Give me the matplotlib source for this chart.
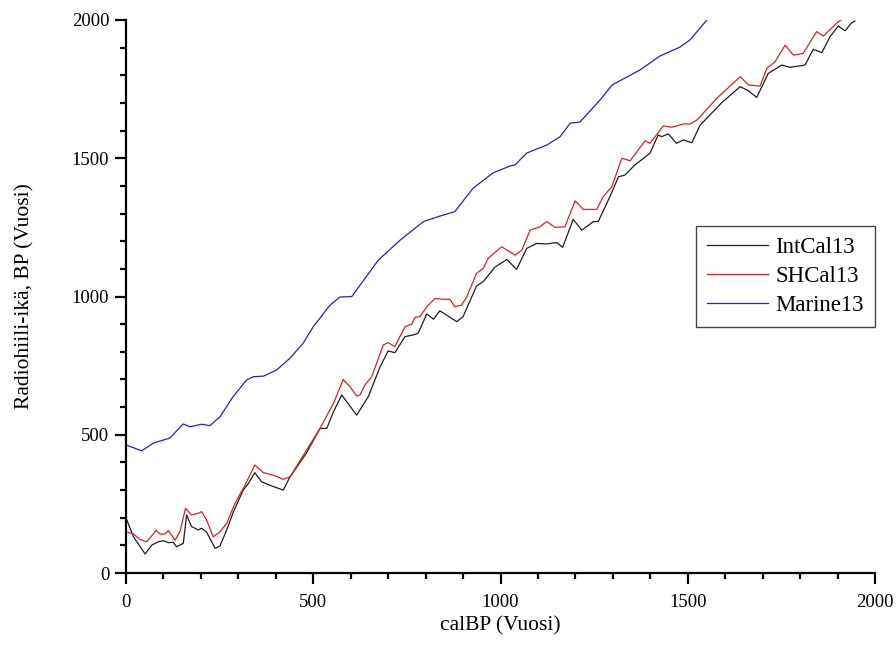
import numpy as np
import matplotlib
matplotlib.use("Agg")
import matplotlib.pyplot as plt
from matplotlib.ticker import MultipleLocator

LW = 0.9
matplotlib.rcParams['font.family'] = ['Liberation Serif', 'DejaVu Serif']

# calendar age (cal BP) vs radiocarbon age (BP)
int_x = [0, 20, 51, 69, 86, 100, 113, 126, 135, 153, 162, 175, 193, 202, 215, 238, 251, 269, 287,
         313, 327, 344, 362, 389, 420, 429, 438, 480, 518, 536, 554, 576, 616, 647, 678, 700, 718,
         745, 767, 780, 803, 821, 838, 856, 883, 900, 936, 954, 985, 1017, 1043, 1070, 1097, 1123,
         1150, 1166, 1194, 1217, 1248, 1261, 1292, 1315, 1332, 1359, 1399, 1421, 1430, 1448, 1470,
         1488, 1511, 1533, 1546, 1590, 1640, 1662, 1684, 1715, 1751, 1773, 1813, 1835, 1858, 1880,
         1902, 1920, 1938, 1946]
int_y = [200, 131, 69, 101, 113, 117, 110, 111, 95, 107, 210, 168, 156, 162, 149, 89, 98, 156, 222,
         300, 324, 363, 330, 315, 300, 324, 348, 430, 523, 523, 583, 644, 571, 638, 744, 803, 797,
         855, 861, 867, 937, 918, 948, 933, 909, 927, 1038, 1054, 1106, 1134, 1098, 1174, 1192, 1190,
         1195, 1178, 1279, 1240, 1271, 1271, 1361, 1433, 1439, 1476, 1518, 1584, 1578, 1588, 1554,
         1566, 1556, 1620, 1638, 1700, 1759, 1744, 1720, 1807, 1837, 1829, 1837, 1894, 1882, 1940,
         1978, 1961, 1990, 1996]

sh_x = [0, 20, 37, 55, 73, 80, 91, 104, 113, 122, 131, 144, 159, 175, 193, 202, 215, 233, 251, 269,
        291, 318, 344, 367, 393, 420, 438, 480, 518, 554, 580, 598, 616, 625, 638, 656, 687, 700, 718,
        745, 763, 772, 785, 803, 825, 847, 865, 878, 896, 910, 936, 954, 967, 1003, 1039, 1057, 1079,
        1105, 1123, 1146, 1172, 1199, 1221, 1257, 1274, 1297, 1324, 1346, 1386, 1399, 1435, 1457,
        1488, 1506, 1524, 1580, 1640, 1662, 1693, 1711, 1733, 1760, 1782, 1808, 1844, 1862, 1902,
        1911]
sh_y = [149, 141, 122, 113, 141, 155, 141, 141, 153, 137, 119, 149, 234, 210, 216, 222, 192, 131,
        149, 180, 252, 318, 391, 363, 354, 339, 348, 440, 523, 614, 700, 674, 640, 644, 680, 710, 825,
        833, 819, 891, 900, 925, 927, 963, 993, 990, 990, 963, 969, 999, 1084, 1102, 1138, 1180, 1150,
        1168, 1240, 1252, 1271, 1250, 1252, 1346, 1315, 1315, 1361, 1397, 1500, 1491, 1563, 1554, 1617,
        1612, 1624, 1624, 1638, 1720, 1795, 1765, 1761, 1825, 1849, 1909, 1873, 1879, 1958, 1942, 1994,
        2002]

mar_x = [0, 42, 73, 117, 153, 171, 202, 224, 251, 286, 322, 340, 367, 402, 438, 473, 500, 518, 545,
         571, 603, 674, 732, 794, 834, 878, 927, 980, 1025, 1039, 1070, 1124, 1159, 1186, 1212, 1266,
         1298, 1372, 1426, 1479, 1506, 1533, 1551]
mar_y = [463, 442, 470, 488, 539, 529, 538, 533, 565, 638, 698, 710, 712, 734, 777, 831, 891, 922,
         969, 998, 1000, 1132, 1204, 1271, 1289, 1307, 1392, 1447, 1472, 1476, 1519, 1548, 1578, 1627,
         1631, 1711, 1765, 1819, 1870, 1902, 1928, 1971, 2000]

fig = plt.figure(figsize=(8.96, 6.62), dpi=100)
ax = fig.add_axes([0.1406, 0.1344, 0.836, 0.8354])

ax.plot(int_x, int_y, color='#1e1e1e', linewidth=LW, label='IntCal13')
ax.plot(sh_x, sh_y, color='#e02020', linewidth=LW, label='SHCal13')
ax.plot(mar_x, mar_y, color='#2020d0', linewidth=LW, label='Marine13')

ax.set_xlim(0, 2000)
ax.set_ylim(0, 2000)
ax.spines['top'].set_visible(False)
ax.spines['right'].set_visible(False)
ax.spines['left'].set_linewidth(1.6)
ax.spines['bottom'].set_linewidth(1.6)

ax.xaxis.set_major_locator(MultipleLocator(500))
ax.xaxis.set_minor_locator(MultipleLocator(100))
ax.yaxis.set_major_locator(MultipleLocator(500))
ax.yaxis.set_minor_locator(MultipleLocator(100))
ax.tick_params(which='major', direction='out', length=8, width=1.6, labelsize=13.5, pad=4)
ax.tick_params(axis='x', which='major', pad=7)
ax.tick_params(which='minor', direction='out', length=4.3, width=1.6)

ax.set_xlabel('calBP (Vuosi)', fontsize=15.5, labelpad=4)
ax.set_ylabel('Radiohiili-ikä, BP (Vuosi)', fontsize=15.5, labelpad=27)

leg = ax.legend(loc='upper right', bbox_to_anchor=(1.0, 0.6275), borderaxespad=0,
                fontsize=16.5, handlelength=2.65, fancybox=False, framealpha=1,
                edgecolor='#444444', borderpad=0.5, labelspacing=0.33, handletextpad=0.3)
leg.get_frame().set_linewidth(1.0)

plt.savefig("out.png", dpi=100)
